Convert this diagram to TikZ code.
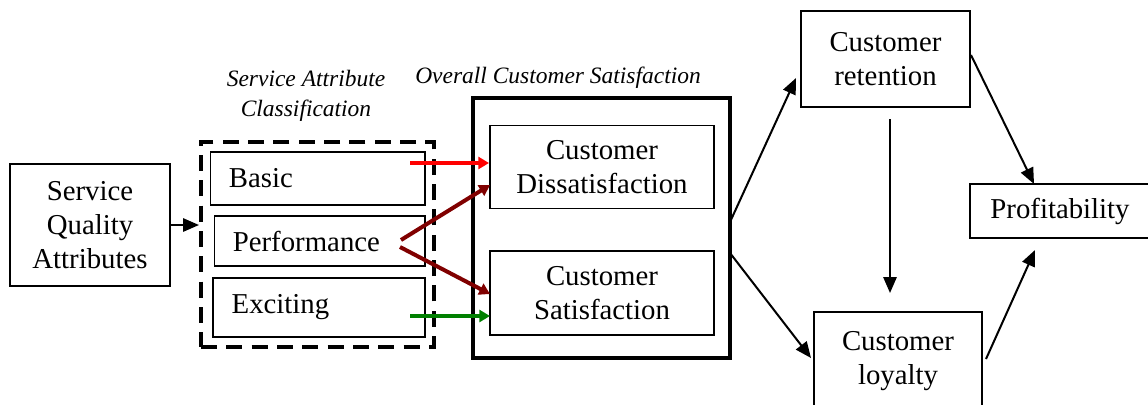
\documentclass[tikz,border=0pt]{standalone}
\usepackage{fontspec}
\setmainfont{Liberation Serif}
\usetikzlibrary{arrows.meta}
\definecolor{arrred}{RGB}{255,0,0}
\definecolor{arrdark}{RGB}{128,0,0}
\definecolor{arrgreen}{RGB}{0,128,0}
\begin{document}
\begin{tikzpicture}[x=0.75pt,y=-0.75pt,
  boxtxt/.style={font=\fontsize{21.6}{25.5}\selectfont},
  plainbox/.style={draw,line width=1pt,inner sep=0pt,align=center,boxtxt},
  leftbox/.style={draw,line width=1pt,inner ysep=0pt,inner xsep=14pt,align=left,boxtxt},
  title/.style={font=\fontsize{17.6}{22.5}\selectfont\itshape,align=center},
  blackarrow/.style={line width=1.5pt,-{Triangle[length=12pt,width=10pt]}},
  colarrow/.style={line width=3pt,-{Triangle[length=8pt,width=9pt]}}
]
\useasboundingbox (0,0) rectangle (1148,404);
% left box
\node[plainbox,minimum width=120pt,minimum height=91.5pt] (sqa) at (90,225) {Service\\Quality\\Attributes};
% dashed classification group
\node[draw,line width=3pt,dash pattern=on 12pt off 7pt,minimum width=174.75pt,minimum height=153.75pt,inner sep=0pt] (grp) at (317.5,244.5) {};
\node[leftbox,text width=133pt,minimum height=39.75pt] (basic) at (317.5,178.5) {\raisebox{-2.2pt}{Basic}};
\node[leftbox,text width=130pt,minimum height=37.5pt] (perf) at (319.5,241) {\raisebox{-2.5pt}{Performance}};
\node[leftbox,text width=131pt,minimum height=44.25pt] (exc) at (319,307.5) {\raisebox{-2.2pt}{Exciting}};
\node[title] (sac) at (306,96) {Service Attribute\\Classification};
% overall box
\node[draw,line width=3pt,minimum width=192.75pt,minimum height=195pt,inner sep=0pt] (overall) at (601.5,228) {};
\node[title] (ocs) at (558,78) {Overall Customer Satisfaction};
\node[plainbox,minimum width=168pt,minimum height=62.25pt] (dis) at (602,167) {Customer\\Dissatisfaction};
\node[plainbox,minimum width=168pt,minimum height=63pt] (sat) at (602,293) {Customer\\Satisfaction};
% right side
\node[plainbox,minimum width=126.75pt,minimum height=72pt] (ret) at (885.5,59) {Customer\\retention};
\node[plainbox,minimum width=126pt,minimum height=73.5pt] (loy) at (898,361) {Customer\\loyalty};
\node[plainbox,minimum width=135pt,minimum height=40.5pt] (prof) at (1060,211) {Profitability};
% coordinates for floating arrow ends
\coordinate (a1) at (410,163); \coordinate (a1e) at (489,163);
\coordinate (a2) at (401,240); \coordinate (a2e) at (490,185);
\coordinate (a3) at (400,247); \coordinate (a3e) at (490,294);
\coordinate (a4) at (410,316); \coordinate (a4e) at (490,316);
\coordinate (b1) at (730,222); \coordinate (b1e) at (796,78);
\coordinate (b2) at (730,253); \coordinate (b2e) at (811,358);
\coordinate (c1) at (890,119); \coordinate (c1e) at (890,293);
\coordinate (d1) at (971,55); \coordinate (d1e) at (1034,184);
\coordinate (e1) at (986,359); \coordinate (e1e) at (1035,250);
% arrows
\draw[blackarrow] (sqa.east) -- (grp.west |- sqa.east);
\draw[colarrow,arrred] (a1) -- (a1e);
\draw[colarrow,arrdark] (a2) -- (a2e);
\draw[colarrow,arrdark] (a3) -- (a3e);
\draw[colarrow,arrgreen] (a4) -- (a4e);
\draw[blackarrow] (b1) -- (b1e);
\draw[blackarrow] (b2) -- (b2e);
\draw[blackarrow] (c1) -- (c1e);
\draw[blackarrow] (d1) -- (d1e);
\draw[blackarrow] (e1) -- (e1e);
\end{tikzpicture}
\end{document}
